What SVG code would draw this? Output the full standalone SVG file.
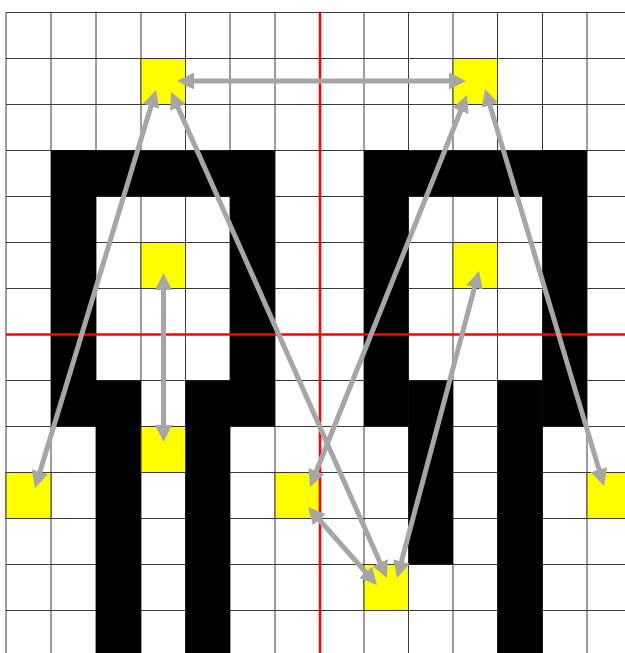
<svg xmlns="http://www.w3.org/2000/svg" width="625" height="653" viewBox="0 0 625 653">
  <style>
    .grid line { stroke: #3a3a3a; stroke-width: 1; }
    .wall { fill: #000000; }
    .cell { fill: #ffff00; stroke: #3a3a3a; stroke-width: 1; }
    .axis { stroke: #ff0000; stroke-width: 2.5; }
    .conn { stroke: #a6a6a6; stroke-width: 5; fill: none; marker-start: url(#ah); marker-end: url(#ah); }
  </style>
  <defs>
    <marker id="ah" viewBox="0 0 17 17" refX="7" refY="8.5" markerWidth="17" markerHeight="17" markerUnits="userSpaceOnUse" orient="auto-start-reverse">
      <path d="M0,0 L17,8.5 L0,17 z" fill="#a6a6a6"/>
    </marker>
  </defs>
  <rect x="0" y="0" width="625" height="653" fill="#ffffff"/>
  <g class="grid">
    <line x1="6" y1="12.5" x2="6" y2="653"/>
    <line x1="51" y1="12.5" x2="51" y2="653"/>
    <line x1="96" y1="12.5" x2="96" y2="653"/>
    <line x1="141" y1="12.5" x2="141" y2="653"/>
    <line x1="185.5" y1="12.5" x2="185.5" y2="653"/>
    <line x1="230" y1="12.5" x2="230" y2="653"/>
    <line x1="275" y1="12.5" x2="275" y2="653"/>
    <line x1="320" y1="12.5" x2="320" y2="653"/>
    <line x1="364" y1="12.5" x2="364" y2="653"/>
    <line x1="408.5" y1="12.5" x2="408.5" y2="653"/>
    <line x1="453" y1="12.5" x2="453" y2="653"/>
    <line x1="497.5" y1="12.5" x2="497.5" y2="653"/>
    <line x1="542.5" y1="12.5" x2="542.5" y2="653"/>
    <line x1="587" y1="12.5" x2="587" y2="653"/>
    <line x1="6" y1="12.5" x2="625" y2="12.5"/>
    <line x1="6" y1="58.5" x2="625" y2="58.5"/>
    <line x1="6" y1="104.5" x2="625" y2="104.5"/>
    <line x1="6" y1="150.5" x2="625" y2="150.5"/>
    <line x1="6" y1="196.5" x2="625" y2="196.5"/>
    <line x1="6" y1="242.5" x2="625" y2="242.5"/>
    <line x1="6" y1="288.5" x2="625" y2="288.5"/>
    <line x1="6" y1="334.5" x2="625" y2="334.5"/>
    <line x1="6" y1="380.5" x2="625" y2="380.5"/>
    <line x1="6" y1="426.5" x2="625" y2="426.5"/>
    <line x1="6" y1="472.5" x2="625" y2="472.5"/>
    <line x1="6" y1="518.5" x2="625" y2="518.5"/>
    <line x1="6" y1="564.5" x2="625" y2="564.5"/>
    <line x1="6" y1="610.5" x2="625" y2="610.5"/>
  </g>
  <g id="walls" class="wall">
    <rect x="51" y="150.5" width="224" height="46"/>
    <rect x="51" y="150.5" width="45" height="276"/>
    <rect x="230" y="150.5" width="45" height="276"/>
    <rect x="96" y="380.5" width="45" height="272.5"/>
    <rect x="185.5" y="380.5" width="44.5" height="272.5"/>
    <rect x="364" y="150.5" width="223" height="46"/>
    <rect x="364" y="150.5" width="44.5" height="276"/>
    <rect x="542.5" y="150.5" width="44.5" height="276"/>
    <rect x="408.5" y="380.5" width="44.5" height="184"/>
    <rect x="497.5" y="380.5" width="45" height="272.5"/>
  </g>
  <g id="cell-c3r1"><rect class="cell" x="141" y="58.5" width="44.5" height="46"/></g>
  <g id="cell-c10r1"><rect class="cell" x="453" y="58.5" width="44.5" height="46"/></g>
  <g id="cell-c3r5"><rect class="cell" x="141" y="242.5" width="44.5" height="46"/></g>
  <g id="cell-c10r5"><rect class="cell" x="453" y="242.5" width="44.5" height="46"/></g>
  <g id="cell-c3r9"><rect class="cell" x="141" y="426.5" width="44.5" height="46"/></g>
  <g id="cell-c0r10"><rect class="cell" x="6" y="472.5" width="45" height="46"/></g>
  <g id="cell-c6r10"><rect class="cell" x="275" y="472.5" width="45" height="46"/></g>
  <g id="cell-c8r12"><rect class="cell" x="364" y="564.5" width="44.5" height="46"/></g>
  <g id="cell-c13r10"><rect class="cell" x="587" y="472.5" width="40" height="46"/></g>
  <g id="axes" class="axis">
    <line x1="320" y1="12.5" x2="320" y2="653"/>
    <line x1="6" y1="334.5" x2="625" y2="334.5"/>
  </g>
  <g id="connectors">
    <line class="conn" x1="187" y1="81" x2="456" y2="81"/>
    <line class="conn" x1="153.1" y1="99.6" x2="37.9" y2="478.4"/>
    <line class="conn" x1="175.1" y1="101.1" x2="382.9" y2="568.9"/>
    <line class="conn" x1="463.3" y1="104.3" x2="313.7" y2="477.7"/>
    <line class="conn" x1="487.9" y1="98.6" x2="601.1" y2="476.4"/>
    <line class="conn" x1="163.5" y1="283" x2="163.5" y2="432"/>
    <line class="conn" x1="476.4" y1="280.7" x2="399.6" y2="568.3"/>
    <line class="conn" x1="314.6" y1="514.5" x2="370.4" y2="577.5"/>
  </g>
</svg>
